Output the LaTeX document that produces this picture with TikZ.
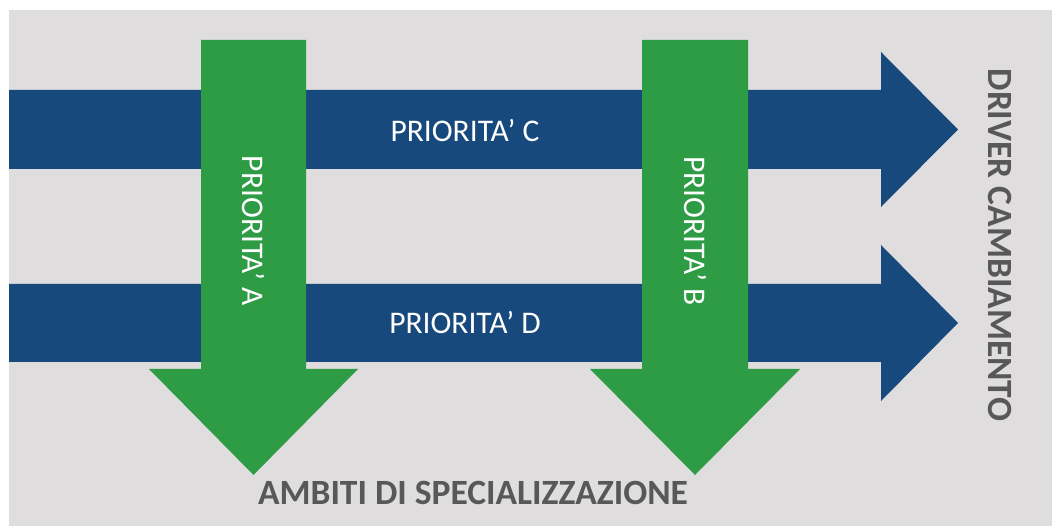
\documentclass[tikz,border=0pt]{standalone}
\usepackage{fontspec}
\setmainfont{Carlito}
\definecolor{bggray}{HTML}{DFDDDE}
\definecolor{bandblue}{HTML}{17497D}
\definecolor{arrowgreen}{HTML}{2E9B45}
\definecolor{labelgray}{HTML}{585858}
\tikzset{
  bluearrow/.style={fill=bandblue, draw=none},
  greenarrow/.style={fill=arrowgreen, draw=none},
  innerlabel/.style={text=white, inner sep=0pt, font=\fontsize{31.5}{37}\selectfont},
  outerlabel/.style={text=labelgray, inner sep=0pt, font=\fontsize{35.5}{42}\selectfont\bfseries}
}
\begin{document}
\begin{tikzpicture}[x=1pt,y=-1pt]
\useasboundingbox (0,0) rectangle (1052,526);
\fill[white] (0,0) rectangle (1052,526);
\fill[bggray] (9,10) rectangle (1052,526);
% blue horizontal arrows
\path[bluearrow] (9,90) -- (881,90) -- (881,52) -- (958,129.5) -- (881,207) -- (881,169) -- (9,169) -- cycle;
\path[bluearrow] (9,284) -- (881,284) -- (881,245) -- (958,323) -- (881,401) -- (881,362) -- (9,362) -- cycle;
% green vertical arrows
\path[greenarrow] (201,40) -- (306,40) -- (306,369) -- (358,369) -- (253.5,475) -- (149,369) -- (201,369) -- cycle;
\path[greenarrow] (642,40) -- (748,40) -- (748,369) -- (800,369) -- (695,475) -- (590,369) -- (642,369) -- cycle;
% labels
\node[innerlabel] (pc) at (465,131) {PRIORITA’ C};
\node[innerlabel] (pd) at (465,323) {PRIORITA’ D};
\node[innerlabel, rotate=-90] (pa) at (253.5,231) {PRIORITA’ A};
\node[innerlabel, rotate=-90] (pb) at (695,231) {PRIORITA’ B};
\node[outerlabel] (amb) at (473,493) {AMBITI DI SPECIALIZZAZIONE};
\node[outerlabel, rotate=-90] (drv) at (1000,245) {DRIVER CAMBIAMENTO};
\end{tikzpicture}
\end{document}
